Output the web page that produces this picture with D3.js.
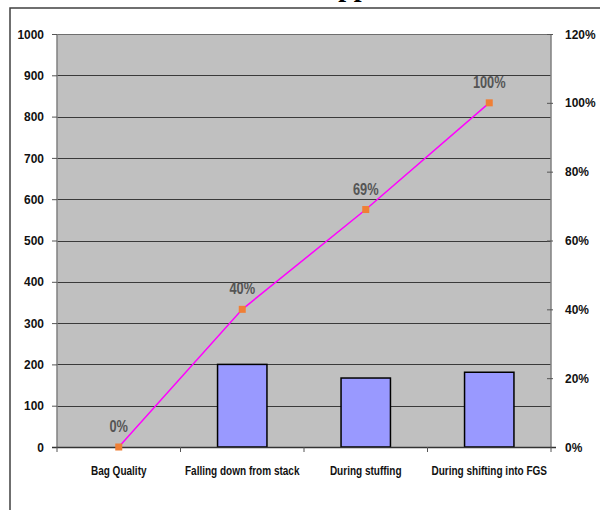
<!DOCTYPE html>
<html>
<head>
<meta charset="utf-8">
<script src="https://cdn.jsdelivr.net/npm/d3@7"></script>
<style>
  html, body { margin: 0; padding: 0; background: #fff; }
  svg { display: block; }
  .lbl { font-family: "Liberation Sans", Arial, sans-serif; font-weight: bold; }
</style>
</head>
<body>
<div id="chart"></div>
<script>
// Damage reasons and counts
const categories = ["Bag Quality", "Falling down from stack", "During stuffing", "During shifting into FGS"];
const counts = [0, 200, 167, 181];
// Cumulative share (%)
const cumulativePct = [0, 40, 69, 100];
const countTicks = [0, 100, 200, 300, 400, 500, 600, 700, 800, 900, 1000];
const pctTicks = [0, 20, 40, 60, 80, 100, 120];
const title = "Tear Reason Status at Application of FGS";

const W = 600, H = 510;
const plot = { left: 57, right: 551, top: 34, bottom: 447 };

const svg = d3.select("#chart").append("svg").attr("width", W).attr("height", H);

// Condense text horizontally around its own anchor point
function squeeze(sel, k) {
  sel.attr("transform", function () {
    const x0 = +this.getAttribute("x") || 0;
    return `translate(${x0 * (1 - k)},0) scale(${k},1)`;
  });
}

// Title (sits mostly above the visible area)
svg.append("text")
  .attr("x", 52).attr("y", -4)
  .attr("text-anchor", "start")
  .style("font-family", "'Liberation Serif', 'Times New Roman', serif")
  .style("font-weight", "bold").style("font-size", "28px")
  .attr("fill", "#000")
  .text(title);

// Outer chart frame
svg.append("path")
  .attr("d", `M10,${H + 2} L10,8 L${W + 2},8`)
  .attr("fill", "none").attr("stroke", "#404040").attr("stroke-width", 1.5);

const x = d3.scaleBand().domain(categories).range([plot.left, plot.right]).paddingInner(0).paddingOuter(0);
const y = d3.scaleLinear().domain([0, 1000]).range([plot.bottom, plot.top]);
const yPct = d3.scaleLinear().domain([0, 120]).range([plot.bottom, plot.top]);

// Plot background
svg.append("rect")
  .attr("x", plot.left).attr("y", plot.top)
  .attr("width", plot.right - plot.left).attr("height", plot.bottom - plot.top)
  .attr("fill", "#c0c0c0");

// Horizontal gridlines
svg.append("g").selectAll("line")
  .data(countTicks.filter(d => d > 0))
  .join("line")
  .attr("x1", plot.left).attr("x2", plot.right)
  .attr("y1", d => Math.round(y(d)) + 0.5).attr("y2", d => Math.round(y(d)) + 0.5)
  .attr("stroke", d => d === 1000 ? "#6e6e6e" : "#3a3a3a").attr("stroke-width", 1.2);

// Side borders of the plot
svg.append("line").attr("x1", plot.left).attr("x2", plot.left)
  .attr("y1", plot.top).attr("y2", plot.bottom).attr("stroke", "#808080").attr("stroke-width", 1.5);
svg.append("line").attr("x1", plot.right).attr("x2", plot.right)
  .attr("y1", plot.top).attr("y2", plot.bottom).attr("stroke", "#808080").attr("stroke-width", 1.5);

// Bars
const barW = x.bandwidth() * 0.4;
svg.append("g").selectAll("rect")
  .data(categories.map((c, i) => ({ c, v: counts[i] })).filter(d => d.v > 0))
  .join("rect")
  .attr("x", d => x(d.c) + (x.bandwidth() - barW) / 2)
  .attr("y", d => y(d.v))
  .attr("width", barW)
  .attr("height", d => y(0) - y(d.v))
  .attr("fill", "#9999ff").attr("stroke", "#000").attr("stroke-width", 1.5);

// Left axis
const gLeft = svg.append("g").attr("transform", `translate(${plot.left},0)`)
  .call(d3.axisLeft(y).tickValues(countTicks).tickFormat(d3.format("d")).tickSize(5).tickPadding(8));
gLeft.select(".domain").remove();
gLeft.selectAll(".tick line").attr("stroke", "#555");
gLeft.selectAll("text").attr("class", "lbl").style("font-size", "13px").attr("fill", "#111").call(squeeze, 0.92);

// Right axis
const gRight = svg.append("g").attr("transform", `translate(${plot.right},0)`)
  .call(d3.axisRight(yPct).tickValues(pctTicks).tickFormat(d => d + "%").tickSizeInner(-4).tickSizeOuter(0).tickPadding(14));
gRight.select(".domain").remove();
gRight.selectAll(".tick line").attr("x1", 2).attr("stroke", "#555");
gRight.selectAll("text").attr("class", "lbl").style("font-size", "13px").attr("fill", "#111").call(squeeze, 0.92);

// Category axis
const gBottom = svg.append("g").attr("transform", `translate(0,${plot.bottom})`);
gBottom.append("line").attr("x1", plot.left - 5).attr("x2", plot.right + 5)
  .attr("y1", 0.5).attr("y2", 0.5).attr("stroke", "#333").attr("stroke-width", 1.3);
const bounds = categories.map(c => x(c)).concat([plot.right]);
gBottom.selectAll(".btick").data(bounds).join("line").attr("class", "btick")
  .attr("x1", d => d).attr("x2", d => d).attr("y1", 0).attr("y2", 5)
  .attr("stroke", "#555");
gBottom.selectAll(".ctext").data(categories).join("text").attr("class", "lbl ctext")
  .attr("x", d => x(d) + x.bandwidth() / 2).attr("y", 28)
  .attr("text-anchor", "middle").style("font-size", "13px").attr("fill", "#111")
  .text(d => d)
  .call(squeeze, 0.77);

// Cumulative line
const pts = categories.map((c, i) => ({ c, p: cumulativePct[i] }));
svg.append("path")
  .datum(pts)
  .attr("d", d3.line().x(d => x(d.c) + x.bandwidth() / 2).y(d => yPct(d.p)))
  .attr("fill", "none").attr("stroke", "#ff00ff").attr("stroke-width", 1.5);

// Markers
const ms = 7;
svg.append("g").selectAll("rect").data(pts).join("rect")
  .attr("x", d => x(d.c) + x.bandwidth() / 2 - ms / 2)
  .attr("y", d => yPct(d.p) - ms / 2)
  .attr("width", ms).attr("height", ms)
  .attr("fill", "#f07f35");

// Value labels
svg.append("g").selectAll("text").data(pts).join("text")
  .attr("class", "lbl")
  .attr("x", d => x(d.c) + x.bandwidth() / 2)
  .attr("y", d => yPct(d.p) - 15)
  .attr("text-anchor", "middle").style("font-size", "16px").attr("fill", "#555")
  .text(d => d.p + "%")
  .call(squeeze, 0.8);
</script>
</body>
</html>
